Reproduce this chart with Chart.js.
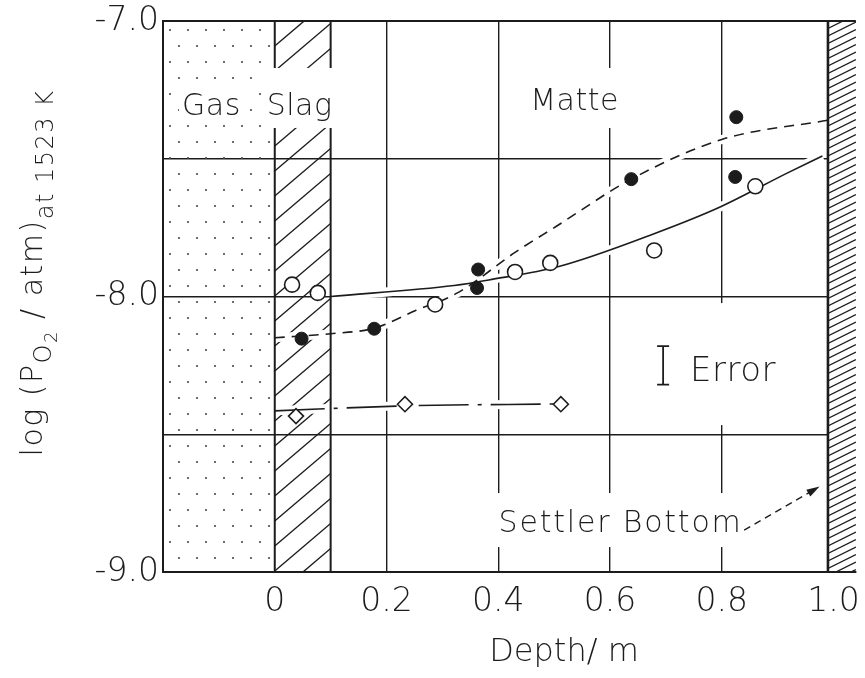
<!DOCTYPE html>
<html>
<head>
<meta charset="utf-8">
<script src="https://cdn.jsdelivr.net/npm/chart.js@4"></script>
<style>
  html, body { margin: 0; padding: 0; background: #fff; }
  #wrap { width: 865px; height: 678px; position: relative; }
</style>
</head>
<body>
<div id="wrap"><canvas id="chart"></canvas></div>
<script>
// values (depth in m, log pO2 in atm)
const xTicks      = [0, 0.2, 0.4, 0.6, 0.8, 1.0];
const xTickLabels = ['0', '0.2', '0.4', '0.6', '0.8', '1.0'];
const yTicks      = [-9.0, -8.5, -8.0, -7.5, -7.0];
const yTickLabels = ['-9.0', '', '-8.0', '', '-7.0'];

const filledDepth = [0.048, 0.178, 0.362, 0.364, 0.638, 0.824, 0.826];
const filledLogP  = [-8.153, -8.117, -7.969, -7.902, -7.574, -7.566, -7.349];

const openDepth = [0.031, 0.077, 0.287, 0.430, 0.493, 0.679, 0.860];
const openLogP  = [-7.957, -7.987, -8.029, -7.911, -7.878, -7.833, -7.600];

const diamondDepth = [0.038, 0.233, 0.512];
const diamondLogP  = [-8.434, -8.391, -8.391];

const solidDepth = [0.1, 0.321, 0.383, 0.51, 0.68, 0.798, 0.916, 0.98];
const solidLogP  = [-8.0, -7.96, -7.94, -7.89, -7.771, -7.674, -7.553, -7.49];

const dashedDepth = [0, 0.1, 0.178, 0.253, 0.327, 0.43, 0.504, 0.638, 0.8, 0.99];
const dashedLogP  = [-8.15, -8.135, -8.115, -8.05, -7.987, -7.84, -7.745, -7.574, -7.43, -7.36];

const dashDotDepth = [0, 0.233, 0.512];
const dashDotLogP  = [-8.415, -8.397, -8.39];

const errorDepth = 0.695;
const errorRange = [-8.32, -8.18];

// zones along the depth axis
const gasZone     = [-0.2, 0];
const slagZone    = [0, 0.1];
const settlerZone = [0.99, 1.04];

const FAMILY = '"DejaVu Sans", sans-serif';
const INK = '#1c1c1c';

const pts = (xs, ys) => xs.map((x, i) => ({ x: x, y: ys[i] }));
const font = (size) => `200 ${size}px ${FAMILY}`;

// text written inside the plot, with the white gap cut around it
const notes = [
  { text: 'Gas',            x: -0.166, y: -7.341, size: 30, pad: [3, 27, 3, 6] },
  { text: 'Slag',           x: -0.0145, y: -7.341, size: 30, pad: [3, 47, 11, 13] },
  { text: 'Matte',          x: 0.457, y: -7.323, size: 30, pad: [7, 42, 14, 18] },
  { text: 'Error',          x: 0.743, y: -8.307, size: 34, pad: [42, 78, 14, 44] },
  { text: 'Settler Bottom', x: 0.4006, y: -8.855, size: 30, pad: [8, 39, 4, 15], spacing: 1.8 }
];

function writeNote(ctx, n, xs, ys, boxOnly) {
  ctx.save();
  ctx.font = font(n.size);
  ctx.letterSpacing = (n.spacing || 0.5) + 'px';
  const w = ctx.measureText(n.text).width;
  const x = xs.getPixelForValue(n.x), y = ys.getPixelForValue(n.y);
  if (boxOnly) {
    ctx.fillStyle = '#fff';
    ctx.fillRect(x - n.pad[0], y - n.pad[1], w + n.pad[0] + n.pad[2], n.pad[1] + n.pad[3]);
  } else {
    ctx.fillStyle = INK;
    ctx.textBaseline = 'alphabetic';
    ctx.fillText(n.text, x, y);
  }
  ctx.restore();
}

const backdrop = {
  id: 'backdrop',
  beforeDatasetsDraw(chart) {
    const ctx = chart.ctx, a = chart.chartArea;
    const xs = chart.scales.x, ys = chart.scales.y;

    // gas: stippled
    const gL = xs.getPixelForValue(gasZone[0]), gR = xs.getPixelForValue(gasZone[1]);
    ctx.save();
    ctx.fillStyle = '#4a4a4a';
    let row = 0;
    for (let y = a.top + 9; y < a.bottom - 4; y += 16, row++) {
      for (let x = gL + 7 + (row % 2) * 9; x < gR - 3; x += 18) {
        ctx.beginPath();
        ctx.arc(x, y, 1.1, 0, Math.PI * 2);
        ctx.fill();
      }
    }
    ctx.restore();

    // slag: hatched
    const sL = xs.getPixelForValue(slagZone[0]), sR = xs.getPixelForValue(slagZone[1]);
    ctx.save();
    ctx.beginPath();
    ctx.rect(sL, a.top, sR - sL, a.bottom - a.top);
    ctx.clip();
    ctx.strokeStyle = INK;
    ctx.lineWidth = 1.4;
    const rise = (sR - sL) * 0.85;
    for (let y = a.top - rise; y < a.bottom + rise; y += 25) {
      ctx.beginPath();
      ctx.moveTo(sL, y + rise);
      ctx.lineTo(sR, y);
      ctx.stroke();
    }
    ctx.restore();

    notes.forEach(n => writeNote(ctx, n, xs, ys, true));
    notes.forEach(n => writeNote(ctx, n, xs, ys, false));
  },
  afterDatasetsDraw(chart) {
    const ctx = chart.ctx, a = chart.chartArea;
    const xs = chart.scales.x, ys = chart.scales.y;

    // slag borders
    ctx.save();
    ctx.strokeStyle = INK;
    ctx.lineWidth = 2;
    const gap = [ys.getPixelForValue(-7.171), ys.getPixelForValue(-7.388)];
    slagZone.forEach(v => {
      const x = xs.getPixelForValue(v);
      ctx.beginPath();
      ctx.moveTo(x, a.top); ctx.lineTo(x, gap[0]);
      ctx.moveTo(x, gap[1]); ctx.lineTo(x, a.bottom);
      ctx.stroke();
    });
    ctx.restore();

    // settler bottom: fine hatch
    const tL = xs.getPixelForValue(settlerZone[0]), tR = xs.getPixelForValue(settlerZone[1]);
    ctx.save();
    ctx.fillStyle = '#fff';
    ctx.fillRect(tL, a.top + 1, tR - tL, a.bottom - a.top - 2);
    ctx.beginPath();
    ctx.rect(tL, a.top, tR - tL, a.bottom - a.top);
    ctx.clip();
    ctx.strokeStyle = INK;
    ctx.lineWidth = 1.3;
    const r2 = (tR - tL) * 0.5;
    for (let y = a.top - r2; y < a.bottom + r2; y += 7.5) {
      ctx.beginPath();
      ctx.moveTo(tL, y + r2);
      ctx.lineTo(tR, y);
      ctx.stroke();
    }
    ctx.restore();
    ctx.save();
    ctx.strokeStyle = INK;
    ctx.lineWidth = 2.6;
    ctx.beginPath();
    ctx.moveTo(tL, a.top);
    ctx.lineTo(tL, a.bottom);
    ctx.stroke();
    ctx.restore();

    // error bar
    const ex = xs.getPixelForValue(errorDepth);
    const e0 = ys.getPixelForValue(errorRange[0]), e1 = ys.getPixelForValue(errorRange[1]);
    ctx.save();
    ctx.strokeStyle = INK;
    ctx.lineWidth = 1.8;
    ctx.beginPath();
    ctx.moveTo(ex, e0); ctx.lineTo(ex, e1);
    ctx.moveTo(ex - 6, e0); ctx.lineTo(ex + 6, e0);
    ctx.moveTo(ex - 6, e1); ctx.lineTo(ex + 6, e1);
    ctx.stroke();
    ctx.restore();

    // arrow from the "Settler Bottom" note
    const ax0 = xs.getPixelForValue(0.84), ay0 = ys.getPixelForValue(-8.848);
    const ax1 = xs.getPixelForValue(0.975), ay1 = ys.getPixelForValue(-8.69);
    const ang = Math.atan2(ay1 - ay0, ax1 - ax0);
    ctx.save();
    ctx.strokeStyle = INK;
    ctx.fillStyle = INK;
    ctx.lineWidth = 1.3;
    ctx.setLineDash([7, 5]);
    ctx.beginPath();
    ctx.moveTo(ax0, ay0);
    ctx.lineTo(ax1 - 10 * Math.cos(ang), ay1 - 10 * Math.sin(ang));
    ctx.stroke();
    ctx.setLineDash([]);
    ctx.beginPath();
    ctx.moveTo(ax1, ay1);
    ctx.lineTo(ax1 - 13 * Math.cos(ang) + 4 * Math.sin(ang), ay1 - 13 * Math.sin(ang) - 4 * Math.cos(ang));
    ctx.lineTo(ax1 - 13 * Math.cos(ang) - 4 * Math.sin(ang), ay1 - 13 * Math.sin(ang) + 4 * Math.cos(ang));
    ctx.closePath();
    ctx.fill();
    ctx.restore();
  },
  afterDraw(chart) {
    const ctx = chart.ctx;
    // y axis title with subscripts
    const parts = [
      { t: 'log (P', s: 30, dy: 0 },
      { t: 'O', s: 24, dy: 9 },
      { t: '2', s: 18, dy: 15 },
      { t: ' / atm)', s: 30, dy: 0 },
      { t: 'at 1523 K', s: 24, dy: 11 }
    ];
    ctx.save();
    ctx.fillStyle = INK;
    ctx.letterSpacing = '1.5px';
    let total = 0;
    parts.forEach(p => { ctx.font = font(p.s); p.w = ctx.measureText(p.t).width; total += p.w; });
    ctx.translate(42, 273);
    ctx.rotate(-Math.PI / 2);
    let x = -total / 2;
    parts.forEach(p => {
      ctx.font = font(p.s);
      ctx.fillText(p.t, x, p.dy);
      x += p.w;
    });
    ctx.restore();

    // x axis title
    ctx.save();
    ctx.fillStyle = INK;
    ctx.font = font(32);
    ctx.textAlign = 'center';
    ctx.fillText('Depth/ m', 564, 661);
    ctx.restore();
  }
};

const lineSet = (label, xs, ys, dash, halo) => ({
  label: label,
  data: pts(xs, ys),
  showLine: true,
  pointRadius: 0,
  pointHoverRadius: 0,
  borderColor: halo ? '#fff' : INK,
  borderWidth: halo ? 9 : 1.6,
  borderDash: halo ? [] : dash,
  cubicInterpolationMode: 'monotone',
  fill: false,
  order: halo ? 2 : 1
});

new Chart(document.getElementById('chart'), {
  type: 'scatter',
  data: {
    datasets: [
      { label: 'filled', data: pts(filledDepth, filledLogP), pointStyle: 'circle', pointRadius: 6.5,
        backgroundColor: INK, borderColor: INK, borderWidth: 1, order: 0 },
      { label: 'open', data: pts(openDepth, openLogP), pointStyle: 'circle', pointRadius: 7.5,
        backgroundColor: '#fff', borderColor: INK, borderWidth: 1.6, order: 0 },
      { label: 'diamond', data: pts(diamondDepth, diamondLogP), pointStyle: 'rectRot', pointRadius: 7.5,
        backgroundColor: '#fff', borderColor: INK, borderWidth: 1.6, order: 0 },
      lineSet('solid', solidDepth, solidLogP, [], false),
      lineSet('dashed', dashedDepth, dashedLogP, [10, 7], false),
      lineSet('dashdot', dashDotDepth, dashDotLogP, [50, 9, 4, 9], false),
      lineSet('solid halo', solidDepth, solidLogP, [], true),
      lineSet('dashed halo', dashedDepth, dashedLogP, [], true),
      lineSet('dashdot halo', dashDotDepth, dashDotLogP, [], true)
    ]
  },
  options: {
    responsive: true,
    maintainAspectRatio: false,
    animation: false,
    layout: { padding: { top: 21, right: 0, left: 0, bottom: 0 } },
    plugins: { legend: { display: false }, tooltip: { enabled: false } },
    scales: {
      x: {
        type: 'linear', min: -0.2, max: 1.04,
        afterBuildTicks: s => { s.ticks = xTicks.map(v => ({ value: v })); },
        afterFit: s => { s.height = 106; s.paddingLeft = 0; s.paddingRight = 0; },
        ticks: {
          autoSkip: false, maxRotation: 0, padding: 11, color: INK,
          font: { family: FAMILY, size: 33, weight: 200 },
          callback: (v, i) => xTickLabels[i]
        },
        grid: {
          drawTicks: false, lineWidth: 1.4,
          color: c => (c.tick && c.tick.value > 0 && c.tick.value < 1) ? INK : 'rgba(0,0,0,0)'
        },
        border: { color: INK, width: 2 }
      },
      y: {
        type: 'linear', min: -9, max: -7,
        afterBuildTicks: s => { s.ticks = yTicks.map(v => ({ value: v })); },
        afterFit: s => { s.width = 163; s.paddingTop = 0; s.paddingBottom = 0; },
        ticks: {
          autoSkip: false, padding: 4, color: INK,
          font: { family: FAMILY, size: 33, weight: 200 },
          callback: (v, i) => yTickLabels[i]
        },
        grid: {
          drawTicks: false, color: INK,
          lineWidth: c => (c.tick && c.tick.value === -7) ? 2 : 1.4
        },
        border: { color: INK, width: 2 }
      }
    }
  },
  plugins: [backdrop]
});
</script>
</body>
</html>
